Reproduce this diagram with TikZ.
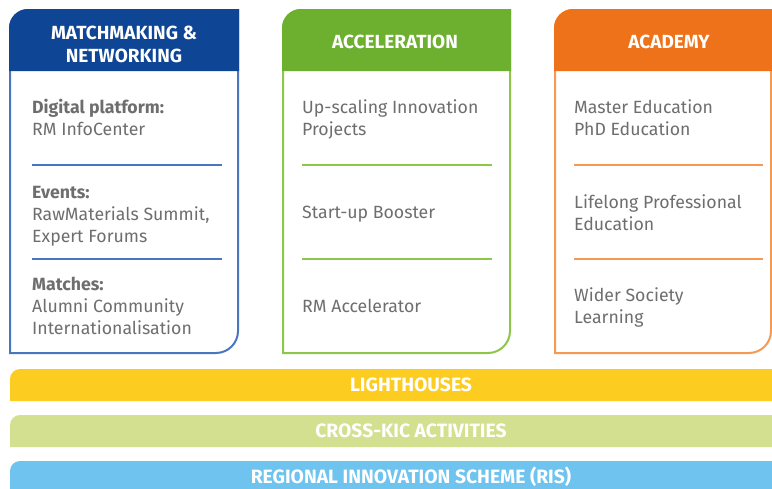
\documentclass[tikz,border=0pt]{standalone}
\usepackage{fontspec}
\setmainfont{Fira Sans}
\usepackage{xcolor}
\usepackage{tikz}

\definecolor{mmhead}{HTML}{0E4595}
\definecolor{mmline}{HTML}{4A76C0}
\definecolor{acchead}{HTML}{6DB030}
\definecolor{accline}{HTML}{8DC64A}
\definecolor{acahead}{HTML}{EE7219}
\definecolor{acaline}{HTML}{F59A55}
\definecolor{lhyellow}{HTML}{FDCC21}
\definecolor{kicgreen}{HTML}{D2E08F}
\definecolor{risblue}{HTML}{6EC3EF}
\definecolor{bodygray}{HTML}{6E6E6E}

\begin{document}
\begin{tikzpicture}[x=1pt,y=-1pt,
    headtext/.style={text=white,font=\fontsize{19}{23}\selectfont\bfseries,align=center,inner sep=0},
    bodytext/.style={text=bodygray,font=\fontsize{17.7}{22}\selectfont,align=left,anchor=base west,inner sep=0},
    bandtext/.style={text=white,font=\fontsize{19.3}{22}\selectfont\bfseries,inner sep=0},
    divider/.style={line width=2pt}]
    \useasboundingbox (0,0) rectangle (772,488);

    % Matchmaking & Networking pillar
    \draw[mmline,line width=2pt,fill=white] (10,353) -- (10,28) arc (180:270:18) -- (238,10) -- (238,331) arc (0:90:22) -- cycle;
    \fill[mmhead] (9,71) -- (9,28) arc (180:270:19) -- (239,9) -- (239,71) -- cycle;
    \node[headtext] (mmhead) at (124,44.5) {MATCHMAKING \&\\NETWORKING};
    \node[bodytext] (mmdigital) at (32,135) {\textbf{Digital platform:}\\RM InfoCenter};
    \draw[mmline,divider] (32,165) -- (222,165);
    \node[bodytext] (mmevents) at (32,242) {\textbf{Events:}\\RawMaterials Summit,\\Expert Forums};
    \draw[mmline,divider] (32,259) -- (222,259);
    \node[bodytext] (mmmatches) at (32,334) {\textbf{Matches:}\\Alumni Community\\Internationalisation};

    % Acceleration pillar
    \draw[accline,line width=2pt,fill=white] (283,353) -- (283,28) arc (180:270:18) -- (510,10) -- (510,331) arc (0:90:22) -- cycle;
    \fill[acchead] (282,71) -- (282,28) arc (180:270:19) -- (511,9) -- (511,71) -- cycle;
    \node[headtext] (acchead) at (395,41.5) {ACCELERATION};
    \node[bodytext] (accupscale) at (302,135) {Up-scaling Innovation\\Projects};
    \draw[accline,divider] (302,165) -- (492,165);
    \node[bodytext] (accbooster) at (302,218) {Start-up Booster};
    \draw[accline,divider] (302,259) -- (492,259);
    \node[bodytext] (accrm) at (302,312) {RM Accelerator};

    % Academy pillar
    \draw[acaline,line width=2pt,fill=white] (555,353) -- (555,28) arc (180:270:18) -- (771,10) -- (771,331) arc (0:90:22) -- cycle;
    \fill[acahead] (554,71) -- (554,28) arc (180:270:19) -- (772,9) -- (772,71) -- cycle;
    \node[headtext] (acahead) at (669,41.5) {ACADEMY};
    \node[bodytext] (acamaster) at (574,135) {Master Education\\PhD Education};
    \draw[acaline,divider] (574,165) -- (763,165);
    \node[bodytext] (acalifelong) at (574,230) {Lifelong Professional\\Education};
    \draw[acaline,divider] (574,259) -- (763,259);
    \node[bodytext] (acawider) at (574,323) {Wider Society\\Learning};

    % Bands across the bottom
    \fill[lhyellow] (10,401) -- (10,379) arc (180:270:10) -- (772,369) -- (772,401) -- cycle;
    \node[bandtext] (lighthouses) at (411,385) {LIGHTHOUSES};
    \fill[kicgreen] (10,447) -- (10,425) arc (180:270:10) -- (772,415) -- (772,447) -- cycle;
    \node[bandtext] (crosskic) at (411,431) {CROSS-KIC ACTIVITIES};
    \fill[risblue] (10,489) -- (10,471) arc (180:270:10) -- (772,461) -- (772,489) -- cycle;
    \node[bandtext] (ris) at (411,477) {REGIONAL INNOVATION SCHEME (RIS)};
\end{tikzpicture}
\end{document}
